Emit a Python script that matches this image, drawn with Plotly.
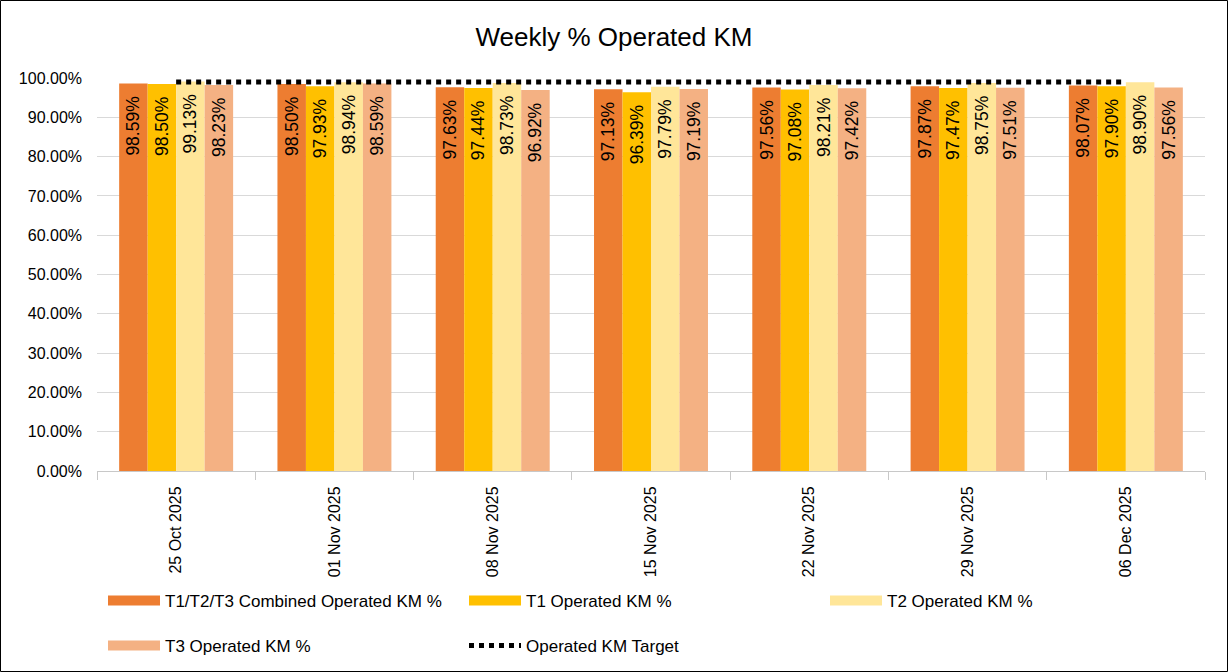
import plotly.graph_objects as go

weeks = ["25 Oct 2025", "01 Nov 2025", "08 Nov 2025", "15 Nov 2025",
         "22 Nov 2025", "29 Nov 2025", "06 Dec 2025"]
combined = [0.9859, 0.9850, 0.9763, 0.9713, 0.9756, 0.9787, 0.9807]
t1 = [0.9850, 0.9793, 0.9744, 0.9639, 0.9708, 0.9747, 0.9790]
t2 = [0.9913, 0.9894, 0.9873, 0.9779, 0.9821, 0.9875, 0.9890]
t3 = [0.9823, 0.9859, 0.9692, 0.9719, 0.9742, 0.9751, 0.9756]
target = [0.99] * 7

names = ["T1/T2/T3 Combined Operated KM %", "T1 Operated KM %",
         "T2 Operated KM %", "T3 Operated KM %"]
colors = ["#ED7D31", "#FFC000", "#FFE699", "#F4B183"]
series = [combined, t1, t2, t3]
legends = ["legend", "legend2", "legend3", "legend4"]

FONT = "Liberation Sans"
W, H = 1228, 672
L, R, T, B = 97, 23, 78, 201
PW, PH = W - L - R, H - T - B

def px(x):
    return (x - L) / PW

def py(y):
    return (H - B - y) / PH

fig = go.Figure()
for name, col, vals in zip(names, colors, series):
    fig.add_trace(go.Bar(
        x=weeks, y=vals, name=name, marker=dict(color=col, line=dict(width=0)),
        texttemplate="%{y:.2%}\u00a0\u00a0", textposition="inside", insidetextanchor="end",
        textangle=-90, textfont=dict(family=FONT, size=17.5, color="black"),
        showlegend=False, hoverinfo="x+y+name",
    ))

fig.add_trace(go.Scatter(
    x=weeks, y=target, name="Operated KM Target", mode="lines",
    line=dict(color="black", width=5, dash="5px,5px"), legend="legend5",
))

# legend entries (wide swatches like the reference)
for name, col, lg in zip(names, colors, legends):
    fig.add_trace(go.Scatter(
        x=[None], y=[None], name=name, mode="lines",
        line=dict(color=col, width=11), legend=lg,
    ))

leg_pos = {
    "legend": (103, 601), "legend2": (464, 601), "legend3": (825, 601),
    "legend4": (103, 646), "legend5": (464, 646),
}
layout_legs = {}
for k, (x, y) in leg_pos.items():
    layout_legs[k] = dict(x=px(x), y=py(y), xanchor="left", yanchor="middle",
                          bgcolor="rgba(0,0,0,0)",
                          font=dict(family=FONT, size=17, color="#000"),
                          itemwidth=52)

fig.update_layout(
    width=W, height=H,
    margin=dict(l=L, r=R, t=T, b=B, autoexpand=False),
    paper_bgcolor="white", plot_bgcolor="white",
    barmode="group", bargap=0.28, bargroupgap=0,
    title=dict(text="Weekly % Operated KM", x=0.5, xref="container", xanchor="center",
               y=1 - 37 / H, yref="container", yanchor="middle",
               font=dict(family=FONT, size=26, color="#000")),
    showlegend=True,
    **layout_legs,
)
fig.update_xaxes(
    type="category", tickangle=-90, showline=True, linecolor="#c8c8c8", linewidth=1,
    ticks="outside", tickson="boundaries", ticklen=8, tickcolor="#c8c8c8",
    ticklabelstandoff=8, automargin=False,
    tickfont=dict(family=FONT, size=16, color="#000"), showgrid=False,
)
fig.update_yaxes(
    range=[0, 1.0], dtick=0.1, tickformat=".2%", showgrid=True,
    gridcolor="#d9d9d9", gridwidth=1, zeroline=False, ticklabelstandoff=14,
    automargin=False,
    tickfont=dict(family=FONT, size=16, color="#000"), ticks="", showline=False,
)
fig.add_shape(type="rect", xref="paper", yref="paper",
              x0=px(0.5), x1=px(W - 0.5), y0=py(H - 0.5), y1=py(0.5),
              line=dict(color="black", width=1), fillcolor="rgba(0,0,0,0)",
              layer="above")

fig.write_html(
    "out.html", config={"displayModeBar": False},
    post_script=(
        "document.body.style.margin='0';"
        "document.body.style.padding='0';"
        "document.body.style.overflow='hidden';"
        "document.documentElement.style.overflow='hidden';"
    ),
)
